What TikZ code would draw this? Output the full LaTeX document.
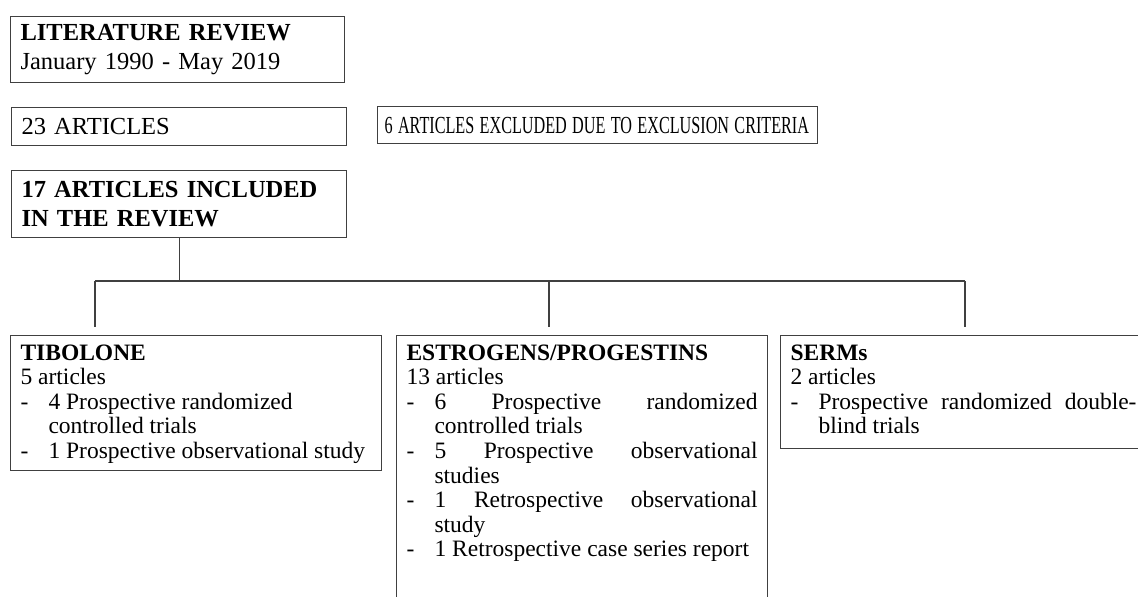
\documentclass[tikz,border=0pt]{standalone}
\usepackage{fontspec}
\setmainfont{Liberation Serif}
\usepackage{graphicx}
\hyphenpenalty=10000
\newcommand{\dashitem}[1]{\par\noindent\hangindent=28pt\hangafter=1\makebox[28pt][l]{-}#1}
\tikzset{
  topbox/.style={draw=black!75, line width=1.1pt, anchor=north west, align=left,
    inner xsep=10pt, inner ysep=0pt, font=\fontsize{24.5}{29}\selectfont},
  groupbox/.style={draw=black!75, line width=1.1pt, anchor=north west,
    inner xsep=10pt, inner ysep=9pt, font=\fontsize{23.5}{24.6}\selectfont},
  link/.style={draw=black!75, line width=1.1pt}
}
\begin{document}
\begin{tikzpicture}[x=1pt,y=-1pt]
\clip (0,0) rectangle (1138,597);
% top of the chart
\node[topbox, text width=314pt, minimum height=66pt] (lit) at (10,16)
  {\textbf{LITERATURE REVIEW}\\January 1990 - May 2019};
\node[topbox, text width=315pt, minimum height=38pt] (all) at (11,107) {23 ARTICLES};
\node[topbox, inner xsep=7pt, text width=426pt, minimum height=37pt] (excl) at (377,106)
  {\scalebox{0.66}[1]{6 ARTICLES EXCLUDED DUE TO EXCLUSION CRITERIA}};
\node[topbox, text width=315pt, minimum height=67pt] (incl) at (11,170)
  {\textbf{17 ARTICLES INCLUDED}\\\textbf{IN THE REVIEW}};
% the three groups
\node[groupbox] (tib) at (10,335) {\parbox[t][117pt][t]{351pt}{\raggedright
  \textbf{TIBOLONE}\par 5 articles
  \dashitem{4 Prospective randomized\newline controlled trials}
  \dashitem{1 Prospective observational study}}};
\node[groupbox] (est) at (396,335) {\parbox[t][300pt][t]{351pt}{
  \textbf{ESTROGENS/PROGESTINS}\par 13 articles
  \dashitem{6 Prospective randomized\linebreak controlled trials}
  \dashitem{5 Prospective observational\linebreak studies}
  \dashitem{1 Retrospective observational\linebreak study}
  \dashitem{1 Retrospective case series report}}};
\node[groupbox] (serm) at (780,335) {\parbox[t][95pt][t]{346pt}{
  \textbf{SERMs}\par 2 articles
  \dashitem{Prospective randomized double-\linebreak blind trials}}};
% connectors
\coordinate (split) at (176,281);
\coordinate (tibdrop) at (95,327);
\coordinate (estdrop) at (549,327);
\coordinate (sermdrop) at (965,327);
\draw[link] (incl.south) -- (incl.south |- split);
\draw[link] (tibdrop |- split) -- (sermdrop |- split);
\draw[link] (tibdrop |- split) -- (tibdrop);
\draw[link] (estdrop |- split) -- (estdrop);
\draw[link] (sermdrop |- split) -- (sermdrop);
\end{tikzpicture}
\end{document}
